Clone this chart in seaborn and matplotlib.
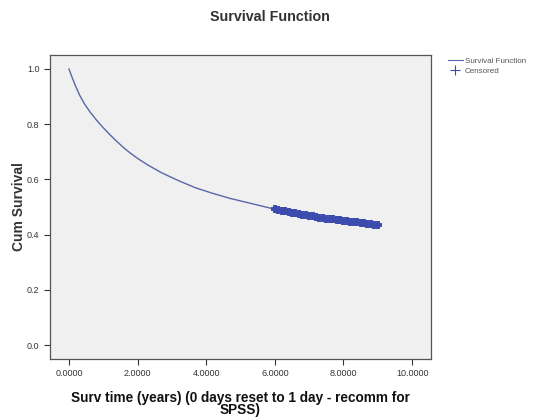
import matplotlib
matplotlib.use("Agg")
import matplotlib.pyplot as plt
from matplotlib.lines import Line2D
import seaborn as sns
import pandas as pd

# Kaplan-Meier cumulative survival, by survival time in years
surv_time = [0.0, 0.1, 0.2, 0.32, 0.45, 0.61, 0.8, 1.0, 1.2, 1.4, 1.6, 1.8, 2.0,
             2.3, 2.7, 3.2, 3.7, 4.2, 4.7, 5.2, 5.6, 6.0, 6.5, 7.0, 7.5, 8.0, 8.5, 9.0]
cum_surv = [1.0, 0.967, 0.936, 0.903, 0.874, 0.845, 0.815, 0.787, 0.761, 0.737, 0.714, 0.694, 0.676,
            0.652, 0.624, 0.595, 0.569, 0.549, 0.531, 0.516, 0.504, 0.492, 0.479, 0.468, 0.458,
            0.450, 0.442, 0.435]

# Censored observations
cens_time = [6.0, 6.1, 6.2, 6.3, 6.4, 6.5, 6.6, 6.7, 6.8, 6.9, 7.0,
             7.1, 7.2, 7.3, 7.4, 7.5, 7.6, 7.7, 7.8, 7.9, 8.0,
             8.1, 8.2, 8.3, 8.4, 8.5, 8.6, 8.7, 8.8, 8.9, 9.0]
cens_surv = [0.492, 0.489, 0.487, 0.484, 0.482, 0.479, 0.477, 0.475, 0.472, 0.470, 0.468,
             0.466, 0.464, 0.462, 0.460, 0.458, 0.456, 0.455, 0.453, 0.452, 0.450,
             0.448, 0.447, 0.445, 0.444, 0.442, 0.441, 0.439, 0.438, 0.436, 0.435]

x_ticks = [0, 2, 4, 6, 8, 10]
y_ticks = [0.0, 0.2, 0.4, 0.6, 0.8, 1.0]

sns.set_style("ticks")
plt.rcParams["font.family"] = ["Liberation Sans", "DejaVu Sans"]

fig = plt.figure(figsize=(5.46, 4.2), dpi=100)
ax = fig.add_axes([50 / 546, 61 / 420, 381 / 546, 304 / 420])
ax.set_facecolor("#f0f0f0")

curve = pd.DataFrame({"time": surv_time, "surv": cum_surv})
cens = pd.DataFrame({"time": cens_time, "surv": cens_surv})

line_color = "#5a66a8"
cens_color = "#3b4cae"

sns.lineplot(data=curve, x="time", y="surv", ax=ax, color=line_color, lw=1.0,
             estimator=None, sort=False)
sns.scatterplot(data=cens, x="time", y="surv", ax=ax, marker="+", s=36,
                color=cens_color, linewidth=2.8, zorder=3)

ax.set_xlim(-0.55, 10.55)
ax.set_ylim(-0.05, 1.05)
ax.set_xticks(x_ticks)
ax.set_xticklabels([f"{v:.4f}" for v in x_ticks])
ax.set_yticks(y_ticks)
ax.set_yticklabels([f"{v:.1f}" for v in y_ticks])
ax.tick_params(axis="both", labelsize=6.5, colors="#333333", length=4, width=0.8,
               direction="out")

for side in ["left", "right", "top", "bottom"]:
    ax.spines[side].set_visible(True)
    ax.spines[side].set_color("#555555")
    ax.spines[side].set_linewidth(0.9)

ax.set_xlabel("Surv time (years) (0 days reset to 1 day - recomm for\nSPSS)",
              fontsize=9.8, fontweight="bold", color="#111111", labelpad=9,
              linespacing=0.85)
ax.set_ylabel("Cum Survival", fontsize=10, fontweight="bold", color="#333333")
ax.yaxis.set_label_coords(-0.064, 0.5)

fig.text(270 / 546, 1 - 17 / 420, "Survival Function", ha="center", va="center",
         fontsize=10.3, fontweight="bold", color="#333333")

handles = [Line2D([0], [0], color=line_color, lw=0.8, drawstyle="steps-post"),
           Line2D([0], [0], color=cens_color, lw=0, marker="+", markersize=7,
                  markeredgewidth=0.8)]
ax.legend(handles, ["Survival Function", "Censored"], loc="upper left",
          bbox_to_anchor=(1.03, 1.01), frameon=False, fontsize=5.8,
          handlelength=1.8, handletextpad=0.3, labelspacing=0.25,
          borderaxespad=0.3, labelcolor="#555555")

fig.savefig("out.png", dpi=100)
